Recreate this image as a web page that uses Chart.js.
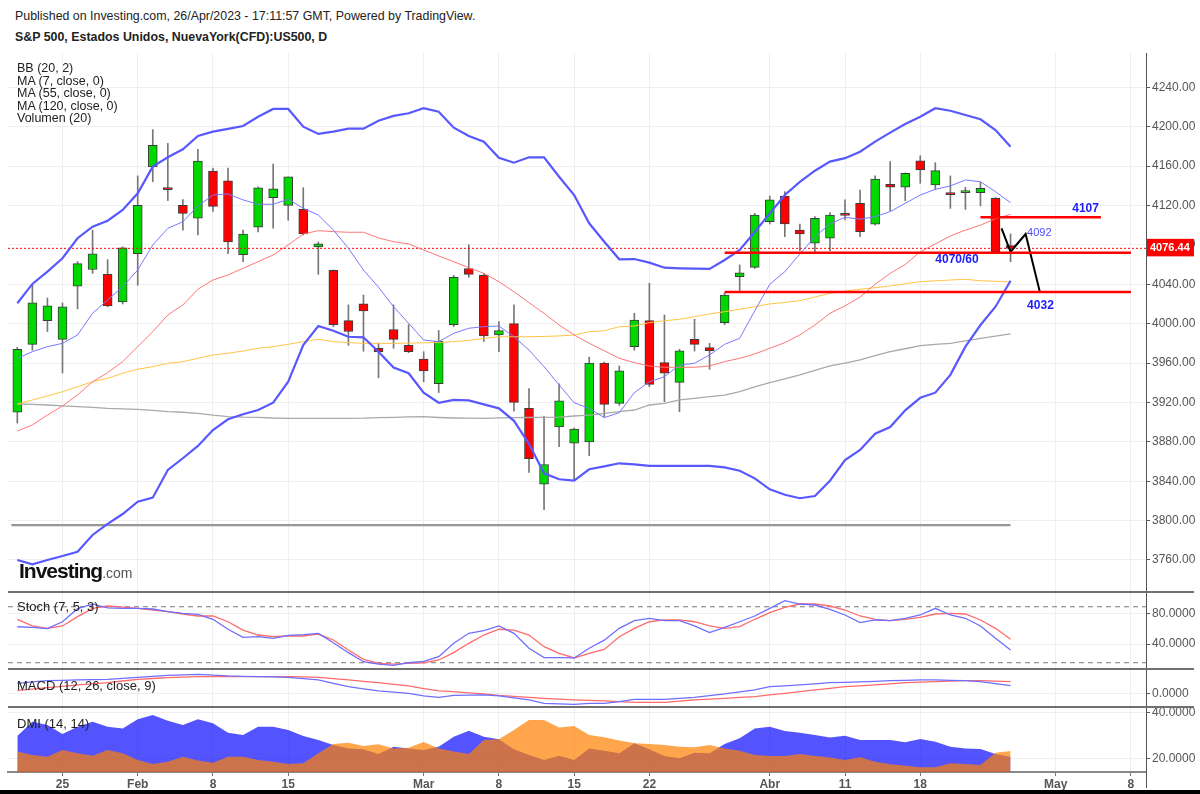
<!DOCTYPE html>
<html>
<head>
<meta charset="utf-8">
<script src="https://cdn.jsdelivr.net/npm/chart.js@4.4.0/dist/chart.umd.min.js"></script>
<style>
  html, body { margin: 0; padding: 0; background: #fff; }
  body { width: 1200px; height: 794px; position: relative; overflow: hidden; font-family: "Liberation Sans", Arial, sans-serif; color: #222; }
  .pane { position: absolute; left: 0; width: 1200px; }
  .txt { position: absolute; white-space: nowrap; z-index: 5; }
  .sep { position: absolute; left: 8px; width: 1186px; height: 2px; background: #707070; z-index: 4; }
</style>
</head>
<body>
<div class="txt" style="left:15px;top:9px;font-size:12.4px;">Published on Investing.com, 26/Apr/2023 - 17:11:57 GMT, Powered by TradingView.</div>
<div class="txt" style="left:15px;top:30px;font-size:12.4px;font-weight:bold;">S&amp;P 500, Estados Unidos, NuevaYork(CFD):US500, D</div>

<div class="pane" style="top:53px;height:539px;"><canvas id="mainChart"></canvas></div>
<div class="pane" style="top:592px;height:77px;"><canvas id="stochChart"></canvas></div>
<div class="pane" style="top:669px;height:38px;"><canvas id="macdChart"></canvas></div>
<div class="pane" style="top:707px;height:83px;"><canvas id="dmiChart"></canvas></div>

<div class="txt" style="left:17px;top:62px;font-size:12.5px;line-height:12.5px;">BB (20, 2)<br>MA (7, close, 0)<br>MA (55, close, 0)<br>MA (120, close, 0)<br>Volumen (20)</div>
<div class="txt" style="left:19px;top:559px;font-size:21px;font-weight:bold;letter-spacing:-1px;color:#111;">Investing<span style="font-size:14px;font-weight:normal;letter-spacing:0;color:#555;">.com</span></div>
<div class="txt" style="left:17px;top:599px;font-size:13px;">Stoch (7, 5, 3)</div>
<div class="txt" style="left:17px;top:678px;font-size:13px;">MACD (12, 26, close, 9)</div>
<div class="txt" style="left:17px;top:716px;font-size:13px;">DMI (14, 14)</div>

<div class="sep" style="top:591px;"></div>
<div class="sep" style="top:668px;"></div>
<div class="sep" style="top:706px;"></div>
<div style="position:absolute;left:1146px;top:772px;width:1px;height:16px;background:#555;"></div>
<div style="position:absolute;left:0;top:790px;width:1200px;height:4px;background:#000;"></div>

<script>
        // daily bars, 20 Jan .. 26 Apr 2023 (x = bar index)
        const opens = [3910, 3979, 4003, 3984, 4038, 4055, 4050, 4022, 4071, 4159,
                       4138, 4120, 4107, 4155, 4145, 4070, 4098, 4128, 4120, 4116,
                       4078, 4054, 4003, 4020, 3975, 3994, 3978, 3964, 3939, 3999,
                       4056, 4049, 3988.5, 4000, 3914, 3837, 3895, 3878.5, 3880, 3960,
                       3919, 3976.6, 4003, 3960.4, 3940.4, 3984.1, 3975.6, 4001, 4047.7, 4057.2,
                       4103.5, 4129.6, 4095, 4081.6, 4086.7, 4112, 4122.2, 4100.9, 4141.5, 4138.5,
                       4165.2, 4140.8, 4132.5, 4133, 4133, 4127.3, 4079.2];
        const highs = [3976, 4040, 4026, 4021, 4063, 4095, 4065, 4078, 4150, 4197,
                       4183, 4126, 4177, 4158, 4158, 4095, 4139, 4162, 4149, 4138,
                       4083, 4054.5, 4019, 4029, 3980, 4019, 3999, 3971.5, 3993, 4049,
                       4080, 4051, 4002, 4019, 3934, 3906, 3939, 3894, 3966, 3961,
                       3957, 4010.5, 4041, 4008.8, 3974, 4004.4, 3980, 4031.4, 4059.6, 4112,
                       4129.6, 4134, 4101, 4108.6, 4112.7, 4125.6, 4135.7, 4150.2, 4164.5, 4153,
                       4170.5, 4163.4, 4150, 4138.5, 4143.5, 4128, 4091];
        const lows = [3899, 3973, 3992, 3950, 4015, 4051, 4017, 4020, 4039, 4144,
                      4125, 4095, 4090, 4114, 4071, 4063, 4093, 4097, 4105, 4090,
                      4050, 3997, 3978, 3972, 3945, 3975, 3970.5, 3941, 3930, 3997,
                      4047, 3982, 3971.5, 3911, 3849, 3811, 3875, 3841, 3866, 3905.5,
                      3917, 3973, 3936, 3920.7, 3910.6, 3972.2, 3953.6, 3999, 4033.5, 4056,
                      4101.2, 4088.3, 4074, 4072, 4074, 4105.2, 4088.3, 4100, 4114.7, 4124.8,
                      4142.5, 4136.4, 4117, 4116, 4119.5, 4072, 4062.9];
        const closes = [3974, 4021, 4018, 4017, 4061, 4071, 4018, 4077, 4120, 4181,
                        4136, 4112, 4165, 4119, 4083, 4091, 4138, 4137, 4149, 4091,
                        4081, 3999, 3992, 4013, 3971.5, 3984, 3971.5, 3952, 3982, 4047,
                        4050, 3987.5, 3993, 3920, 3863, 3857, 3921.5, 3893, 3960, 3918,
                        3952, 4003.7, 3938.4, 3949.6, 3972.5, 3979, 3972.5, 4029, 4051.7, 4110.3,
                        4125.6, 4101.2, 4091, 4107, 4110.3, 4110, 4093.4, 4146.9, 4138.5, 4152.7,
                        4156, 4155.3, 4131, 4135, 4137.4, 4072.5, 4076.44];

        const bbUpper = [4020.7, 4040.3, 4052.8, 4066.4, 4086.7, 4098.4, 4104.5, 4115.4, 4132.4, 4159.4,
                         4168.9, 4177, 4190.5, 4194.9, 4197.7, 4200.7, 4210.1, 4218, 4218, 4200,
                         4192.6, 4194.9, 4198, 4198, 4206, 4211, 4213.6, 4218.7, 4215.2, 4199,
                         4190.5, 4184.8, 4168.5, 4163.4, 4168.9, 4168.9, 4149.2, 4130.6, 4101.9, 4083.2,
                         4065.3, 4065.6, 4061.9, 4056.8, 4056.2, 4055.8, 4055.5, 4064.6, 4074.8, 4093,
                         4112, 4130.6, 4144, 4155.3, 4164.5, 4168, 4174.6, 4184.8, 4193.9, 4202.7,
                         4210.1, 4218.7, 4216.2, 4211.9, 4207.5, 4196.6, 4179.7];
        const bbLower = [3760, 3755.6, 3760, 3764.1, 3768.4, 3785.4, 3796.6, 3806.7, 3819.2, 3823.3,
                         3851.4, 3863.3, 3875.8, 3892, 3902.9, 3908, 3912.3, 3919.7, 3941, 3978.3,
                         3997.6, 3992.8, 3986.7, 3986.1, 3971.5, 3955.5, 3949.6, 3930, 3919.7, 3922.5,
                         3922, 3918, 3914, 3901.3, 3878, 3848, 3842, 3840.5, 3852.1, 3855,
                         3858.2, 3857, 3855.5, 3855.5, 3855.5, 3855.5, 3855.5, 3854.1, 3850.7, 3842.9,
                         3831.8, 3826.3, 3822.7, 3825, 3840.5, 3861.5, 3871.7, 3888.3, 3895, 3912,
                         3924.7, 3929.9, 3948, 3976.6, 3998.6, 4017.2, 4043.6];
        const bbBasis = [3891, 3897.1, 3907.2, 3916.4, 3927.6, 3941, 3950.2, 3961.4, 3976.6, 3991.8,
                         4008.8, 4019, 4034.9, 4044.3, 4049.4, 4056.2, 4062.9, 4069.7, 4079.9, 4091,
                         4094.4, 4093.4, 4092.8, 4092.8, 4087, 4083.2, 4080.9, 4074.8, 4068.7, 4062.9,
                         4056.8, 4051.1, 4042.6, 4032.4, 4021.3, 4010.5, 3998.6, 3988.5, 3980, 3972.5,
                         3964.8, 3960.4, 3957, 3955.7, 3955.7, 3955.7, 3957, 3961.4, 3964.8, 3969.2,
                         3975, 3980.7, 3988.5, 3998.6, 4010.5, 4018, 4027, 4040, 4051, 4060,
                         4073, 4081, 4089, 4095, 4100, 4106.5, 4111];
        const ma7 = [3964.8, 3971.5, 3976.6, 3980, 3988.5, 4010.5, 4024, 4037.5, 4054.5, 4079.9,
                     4096.8, 4103.5, 4119.5, 4130.6, 4131.7, 4125.6, 4121.2, 4121.2, 4126.3, 4117.1,
                     4110.3, 4095.1, 4076.5, 4054.5, 4037, 4017.2, 4000.4, 3983.4, 3981.7, 3990.2,
                     3995.3, 3996.9, 3997.6, 3986.7, 3973.2, 3956.3, 3937.7, 3919.7, 3914, 3904.5,
                     3909.6, 3929.9, 3941, 3946.1, 3958, 3959.7, 3968.2, 3979, 3985.1, 4013,
                     4040, 4052.8, 4070.7, 4088.3, 4101.2, 4108, 4106, 4108.6, 4113.7, 4122.2,
                     4130.6, 4136.4, 4139.8, 4145.9, 4144.1, 4134, 4122.8];
        const ma55 = [3918.4, 3922.5, 3926.5, 3930.9, 3935.9, 3941, 3944.5, 3949.6, 3953.7, 3956.3,
                      3959.7, 3961.4, 3964.8, 3968.2, 3969.9, 3972.2, 3975, 3976.6, 3979, 3981.7,
                      3984.1, 3981.7, 3980.7, 3980, 3980, 3980, 3980.2, 3980.5, 3981, 3981.7,
                      3983, 3985, 3986.7, 3986.7, 3986.7, 3987, 3987.5, 3988.5, 3991.8, 3992.8,
                      3996.9, 3997.6, 4001, 4003, 4004.4, 4007.1, 4009.8, 4012.1, 4014.6, 4017.2,
                      4020, 4021.5, 4023.3, 4027, 4030.8, 4033, 4034.9, 4036.5, 4038.2, 4040.5,
                      4042.6, 4043.5, 4044.3, 4045, 4043.6, 4043, 4042.3];
        const ma120 = [3918.4, 3918, 3917.4, 3916.5, 3915.7, 3915, 3914, 3913.5, 3913, 3912,
                       3910.6, 3910, 3908.9, 3907, 3905.5, 3905, 3904.9, 3904.2, 3903.9, 3903.9,
                       3903.9, 3903.9, 3903.9, 3904, 3904.5, 3904.9, 3905.3, 3905.5, 3904.7, 3904.2,
                       3904, 3903.9, 3904.3, 3904.5, 3904.7, 3904.9, 3905, 3906.2, 3907.2, 3908.9,
                       3910.6, 3912.3, 3917.4, 3919.1, 3922.5, 3924.2, 3925.8, 3927.5, 3930.9, 3935.9,
                       3940, 3944, 3947.9, 3952.5, 3957, 3960, 3963.1, 3967.5, 3971.5, 3974.5,
                       3977.6, 3979, 3980, 3982.5, 3985.1, 3987.3, 3989.5];

        const volumeLevel = [3795.5];
        const lastPrice = [4076.44];

        // hand-drawn levels
        const levelLines = [
            { from: 64.0, to: 72.0, y: 4108 },
            { from: 47.0, to: 74.0, y: 4072 },
            { from: 47.0, to: 74.0, y: 4032 }
        ];
        const pathX = [65.4, 66, 67, 67.95];
        const pathY = [4096.8, 4073, 4091, 4032];
        const notes = [
            { text: '4107', x: 70.1, y: 4117, bold: true },
            { text: '4070/60', x: 61.0, y: 4064.6, bold: true },
            { text: '4032', x: 67.1, y: 4018.3, bold: true },
            { text: '4092', x: 67.1, y: 4092.4, bold: false }
        ];

        const stochK = [62.5, 61.7, 60, 69, 86, 92, 87, 86.5, 86.5, 85.6,
                        82.1, 80, 78.7, 72.2, 59.2, 48.7, 49.5, 47.4, 51.3, 52.2,
                        53.9, 41.7, 28.7, 16.9, 13.9, 12.2, 15.6, 17.3, 23.5, 40.9,
                        53.9, 57.3, 63.5, 53.9, 34.4, 22.2, 22.2, 21.8, 34.4, 45,
                        60.4, 70.4, 73.5, 70.4, 70.4, 63.5, 54.8, 61.7, 69, 76.5,
                        86.5, 96.4, 92.1, 90.8, 85.2, 77.8, 67.8, 71.3, 70.4, 73.5,
                        77.8, 86.5, 77.8, 73.5, 63.5, 47.4, 32.2];
        const stochD = [72.2, 63.5, 60.4, 63.5, 75.6, 86.5, 89.5, 88, 86.5, 84.3,
                        82.1, 79.1, 76.5, 76.5, 69, 58.2, 51.7, 49.5, 50.4, 50.4,
                        53, 45.2, 32.2, 20, 14.8, 13.9, 14.8, 15.6, 19.2, 28.7,
                        40.9, 51.7, 59.2, 58.2, 51.7, 36.5, 27.9, 21.8, 27.9, 33,
                        49.5, 60.4, 69, 71.3, 71.3, 69, 63.5, 60.4, 62.6, 72.2,
                        80.8, 87.8, 92.1, 92.1, 89.5, 84.3, 76.5, 72.2, 70.4, 72.2,
                        74.8, 79.1, 80, 79.1, 71.3, 60.4, 46.1];
        const stochBands = [88.5, 15.6];

        const macdLine = [20, 23, 25.3, 26, 26.7, 27.3, 28, 30, 32, 34,
                          36, 37, 38, 36.5, 34.7, 34, 33.3, 32.7, 32, 29.5,
                          26.7, 20, 13.3, 9, 4.7, 2.3, 0, -5.3, -8, -4,
                          -3.5, -3.3, -5.3, -9, -13.3, -20, -21, -22, -20, -20,
                          -16.7, -12, -12, -12, -10, -8, -4.5, -1.3, 2.7, 6.7,
                          13.3, 15, 16.7, 19, 21.3, 22, 22.7, 24, 25.3, 26,
                          26.7, 26.7, 26, 25.3, 23.3, 19.3, 15.3];
        const macdSignal = [5.3, 8.3, 11.3, 14, 16.7, 19, 21.3, 24.6, 28, 29.6,
                            31.3, 32.3, 33.3, 33.3, 33.3, 33.3, 33.3, 33.3, 33.3, 32.7,
                            32, 29.3, 26.7, 24, 21.3, 18, 14.7, 9.3, 4.7, 3.3,
                            1, -1.3, -4, -6, -8, -10, -11.7, -13.3, -14.3, -15.3,
                            -16.7, -18, -18, -18, -15.7, -13.3, -11.7, -10, -8.3, -6.7,
                            -3.3, 0, 3.3, 6.7, 10, 13.3, 15, 16.7, 19, 21.3,
                            22.3, 23.3, 24.3, 25.3, 25.3, 24.3, 23.3];

        const diPlus = [29.7, 35.9, 34.5, 30.6, 33.7, 35.9, 33.7, 33, 37, 38.8,
                        36.3, 34.5, 37, 35.2, 31.1, 30.1, 33.7, 33.7, 32.3, 29.7,
                        28, 25.8, 24.3, 23.9, 21.9, 25, 24.3, 23.6, 25, 29.4,
                        32, 29.4, 28.3, 23.9, 21.4, 19.3, 21.1, 19.3, 24.3, 23.3,
                        22.2, 26.5, 23.9, 21, 20, 22.4, 22.2, 26.2, 28.7, 33,
                        33.7, 31.9, 31.1, 30.1, 29, 29.8, 28, 28, 28, 27,
                        28.4, 27.2, 25, 24.3, 24, 21.9, 20.7];
        const diMinus = [22.9, 21.4, 20.7, 23.6, 22.2, 21.1, 23.6, 22.2, 19.3, 17.5,
                         18.5, 20.7, 19, 18.1, 20.7, 20.7, 19.3, 18.5, 17.5, 17.8,
                         22.2, 26.2, 26.8, 25.3, 26.1, 24.3, 24.6, 27.1, 24.3, 22.9,
                         21.9, 28, 28.3, 32.3, 36.7, 36.7, 33.4, 34, 30.1, 29.1,
                         27.7, 26.5, 26.2, 25.8, 25, 24.8, 25.8, 24.3, 23.3, 21.4,
                         21, 21, 21.9, 21, 20.3, 19.3, 20.4, 18.5, 17.4, 16.8,
                         16.1, 16.1, 17.8, 17.5, 17.1, 22.4, 23.2];

        const xTickPos = [3, 8, 13, 18, 27, 32, 37, 42, 50, 55, 60, 69, 74];
        const xTickText = ['25', 'Feb', '8', '15', 'Mar', '8', '15', '22', 'Abr', '11', '18', 'May', '8'];
        const priceTicks = [3760, 3800, 3840, 3880, 3920, 3960, 4000, 4040, 4080, 4120, 4160, 4200, 4240];

        const FONT = 'Liberation Sans';
        const pts = arr => arr.map((v, i) => ({ x: i, y: v }));
        const flat = (a, b, y) => [{ x: a, y: y }, { x: b, y: y }];

        function xScale(showLabels) {
            return {
                type: 'linear', min: -0.62, max: 75, offset: false,
                afterBuildTicks: s => { s.ticks = xTickPos.map(v => ({ value: v })); },
                afterFit: s => { s.paddingLeft = 0; s.paddingRight = 0; s.height = showLabels ? 18 : 0; },
                grid: { color: '#efefef', offset: false, drawTicks: showLabels, tickLength: 4, tickColor: '#777' },
                border: { display: showLabels, color: '#888', width: 2 },
                ticks: {
                    display: showLabels, padding: 1, autoSkip: false, maxRotation: 0, color: '#555',
                    font: { family: FONT, size: 12, weight: 'bold' },
                    callback: v => xTickText[xTickPos.indexOf(v)]
                }
            };
        }

        function yScale(min, max, ticks, digits) {
            return {
                position: 'right', min: min, max: max,
                afterBuildTicks: s => { s.ticks = ticks.map(v => ({ value: v })); },
                afterFit: s => { s.width = 54; s.paddingTop = 0; s.paddingBottom = 0; },
                grid: { color: '#efefef', tickLength: 4, tickColor: '#555' },
                border: { color: '#555', width: 1 },
                ticks: { padding: 2, color: '#555', font: { family: FONT, size: 12 }, callback: v => v.toFixed(digits) }
            };
        }

        function baseOptions(y, showX) {
            return {
                responsive: true,
                maintainAspectRatio: false,
                animation: false,
                layout: { padding: { left: 8, right: 0, top: 0, bottom: 0 } },
                plugins: { legend: { display: false }, tooltip: { enabled: false } },
                scales: { x: xScale(showX), y: y }
            };
        }

        function lineSet(data, color, width, order, extra) {
            return Object.assign({ type: 'line', data: data, borderColor: color, borderWidth: width, pointRadius: 0, tension: 0, fill: false, order: order }, extra || {});
        }

        // text notes and last-price tag on the price pane
        const priceDecor = {
            id: 'priceDecor',
            afterDatasetsDraw(chart) {
                const { ctx, scales } = chart;
                ctx.save();
                ctx.textBaseline = 'middle';
                notes.forEach(n => {
                    ctx.font = (n.bold ? 'bold 12px ' : '11px ') + '"' + FONT + '"';
                    ctx.fillStyle = n.bold ? '#1c1cff' : '#4a4aff';
                    ctx.fillText(n.text, scales.x.getPixelForValue(n.x), scales.y.getPixelForValue(n.y));
                });
                ctx.restore();
            },
            afterDraw(chart) {
                const { ctx, chartArea, scales } = chart;
                const y = scales.y.getPixelForValue(lastPrice[0]);
                ctx.save();
                ctx.fillStyle = '#ff0000';
                ctx.fillRect(chartArea.right + 1, y - 9.5, 47, 17.5);
                ctx.fillStyle = '#ffffff';
                ctx.font = 'bold 11px "' + FONT + '"';
                ctx.textBaseline = 'middle';
                ctx.fillText(lastPrice[0].toFixed(2), chartArea.right + 4, y);
                ctx.restore();
            }
        };

        function renderPriceChart() {
            const up = closes.map((c, i) => c >= opens[i]);
            const datasets = [
                lineSet(levelLines.flatMap(l => [...flat(l.from, l.to, l.y), { x: l.to, y: null }]), '#ff0000', 2.5, 0, { spanGaps: false }),
                lineSet(pathX.map((x, i) => ({ x: x, y: pathY[i] })), '#000000', 2, 0),
                lineSet(pts(bbUpper), '#5858ff', 2.2, 1),
                lineSet(pts(bbLower), '#5858ff', 2.2, 1),
                lineSet(pts(ma7), '#7878ff', 1, 2),
                lineSet(pts(bbBasis), '#ff7676', 1, 2),
                lineSet(pts(ma55), '#ffc445', 1, 2),
                lineSet(pts(ma120), '#a9a9a9', 1.3, 2),
                lineSet(flat(-0.62, 75, lastPrice[0]), '#ff0000', 1, 3, { borderDash: [2, 2] }),
                lineSet(flat(-0.4, 66, volumeLevel[0]), '#979797', 2.2, 3),
                {
                    type: 'bar', order: 5, grouped: false, barThickness: 9, minBarLength: 2,
                    data: opens.map((o, i) => ({ x: i, y: [o, closes[i]] })),
                    backgroundColor: up.map(u => u ? '#00d900' : '#ff0000'),
                    borderColor: '#3c3c3c', borderWidth: 1, borderSkipped: false
                },
                {
                    type: 'bar', order: 6, grouped: false, barThickness: 1,
                    data: lows.map((l, i) => ({ x: i, y: [l, highs[i]] })),
                    backgroundColor: '#777777', borderWidth: 0
                }
            ];
            new Chart(document.getElementById('mainChart'), {
                type: 'bar',
                data: { datasets: datasets },
                options: baseOptions(yScale(3727.5, 4274.8, priceTicks, 2), false),
                plugins: [priceDecor]
            });
        }

        function renderStochChart() {
            new Chart(document.getElementById('stochChart'), {
                type: 'line',
                data: {
                    datasets: [
                        lineSet(pts(stochK), '#6e6eff', 1.3, 0),
                        lineSet(pts(stochD), '#ff6b6b', 1.3, 1),
                        lineSet(flat(-0.62, 75, stochBands[0]), '#777', 1, 2, { borderDash: [5, 4] }),
                        lineSet(flat(-0.62, 75, stochBands[1]), '#777', 1, 2, { borderDash: [5, 4] })
                    ]
                },
                options: baseOptions(yScale(7.43, 107.75, [40, 80], 4), false)
            });
        }

        function renderMacdChart() {
            new Chart(document.getElementById('macdChart'), {
                type: 'line',
                data: {
                    datasets: [
                        lineSet(pts(macdLine), '#6e6eff', 1.3, 0),
                        lineSet(pts(macdSignal), '#ff6b6b', 1.3, 1)
                    ]
                },
                options: baseOptions(yScale(-27.4, 48.6, [0], 4), false)
            });
        }

        function renderDmiChart() {
            new Chart(document.getElementById('dmiChart'), {
                type: 'line',
                data: {
                    datasets: [
                        lineSet(pts(diMinus), 'rgba(255,128,0,0.7)', 0, 0, { fill: 'start', backgroundColor: 'rgba(255,128,0,0.7)' }),
                        lineSet(pts(diPlus), 'rgba(0,0,255,0.67)', 0, 1, { fill: 'start', backgroundColor: 'rgba(0,0,255,0.67)' })
                    ]
                },
                options: baseOptions(yScale(14.04, 42.3, [20, 40], 4), true)
            });
        }

        renderPriceChart();
        renderStochChart();
        renderMacdChart();
        renderDmiChart();
</script>
</body>
</html>
